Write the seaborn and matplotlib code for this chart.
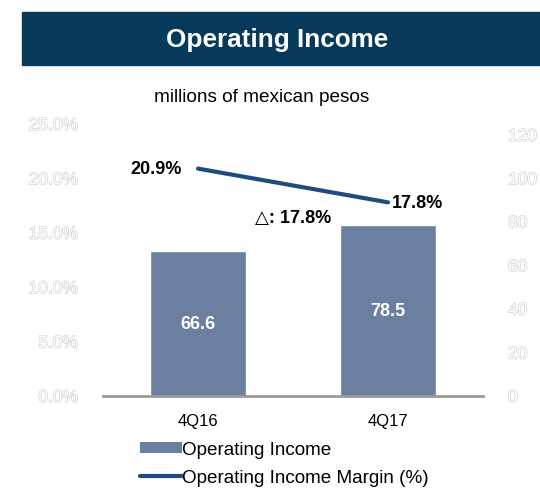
import matplotlib
matplotlib.use("Agg")
import matplotlib.pyplot as plt
import matplotlib.patheffects as pe
from matplotlib.patches import Rectangle, Patch
from matplotlib.lines import Line2D
import seaborn as sns
import pandas as pd

# Data
quarters = ["4Q16", "4Q17"]
operating_income = [66.6, 78.5]          # millions of mexican pesos
operating_margin = [20.9, 17.8]          # percent
margin_change_label = "△: 17.8%"

left_ticks = [0, 5, 10, 15, 20, 25]
right_ticks = [0, 20, 40, 60, 80, 100, 120]

BAR_COLOR = "#6B7FA1"
LINE_COLOR = "#1F4B80"
BANNER_COLOR = "#073A5A"
OUTLINE = [pe.withStroke(linewidth=0.9, foreground="#CFCFCF")]

sns.set_theme(style="white")
plt.rcParams["font.family"] = ["Liberation Sans", "DejaVu Sans"]
plt.rcParams["text.color"] = "black"
plt.rcParams["xtick.color"] = "black"

df = pd.DataFrame({"quarter": quarters, "income": operating_income,
                   "margin": operating_margin, "x": [0, 1]})

fig = plt.figure(figsize=(5.4, 4.89), dpi=100)

# Title banner
fig.patches.append(Rectangle((22 / 540, 1 - 66 / 489), 1 - 22 / 540, 53 / 489,
                             transform=fig.transFigure, color=BANNER_COLOR, zorder=0))
fig.text(277 / 540, 1 - 40 / 489, "Operating Income", color="white",
         fontsize=18.8, fontweight="bold", ha="center", va="center")
fig.text(262 / 540, 1 - 97 / 489, "millions of mexican pesos", color="black",
         fontsize=13.7, ha="center", va="center")

# Bars on the right-hand scale
ax = fig.add_axes([103 / 540, 92 / 489, 380 / 540, 272 / 489])
sns.barplot(data=df, x="quarter", y="income", color=BAR_COLOR, width=0.51,
            saturation=1, ax=ax, zorder=2)

# Margin line on the left-hand scale
ax2 = ax.twinx()
sns.lineplot(data=df, x="x", y="margin", color=LINE_COLOR, linewidth=3,
             ax=ax2, zorder=3)

ax.set_ylim(0, 125)
ax.set_xlim(-0.5, 1.5)
ax.set_yticks(right_ticks)
ax.set_xlabel("")
ax.set_ylabel("")
for s in ["top", "left", "right"]:
    ax.spines[s].set_visible(False)
ax.spines["bottom"].set_color("#999999")
ax.spines["bottom"].set_linewidth(2)
ax.tick_params(axis="x", length=0, pad=12, labelsize=12, labelcolor="black")
ax.tick_params(axis="y", length=0, pad=18, labelsize=12.5, labelcolor="white",
               left=False, right=False, labelleft=False, labelright=True)
for lab in ax.get_yticklabels():
    lab.set_path_effects(OUTLINE)

for i, v in enumerate(operating_income):
    ax.text(i, v / 2, f"{v}", color="white", fontsize=13, fontweight="bold",
            ha="center", va="center")

ax2.set_ylim(0, 25)
ax2.set_xlim(-0.5, 1.5)
ax2.set_yticks(left_ticks)
ax2.set_yticklabels([f"{t:.1f}%" for t in left_ticks])
ax2.set_xlabel("")
ax2.set_ylabel("")
for s in ["top", "left", "right", "bottom"]:
    ax2.spines[s].set_visible(False)
ax2.tick_params(axis="y", length=0, pad=18, labelsize=12.5, labelcolor="white",
                left=False, right=False, labelleft=True, labelright=False)
for lab in ax2.get_yticklabels():
    lab.set_path_effects(OUTLINE)

ax2.annotate(f"{operating_margin[0]}%", (0, operating_margin[0]),
             xytext=(-12, 0), textcoords="offset points", ha="right", va="center",
             fontsize=13, fontweight="bold")
ax2.annotate(f"{operating_margin[1]}%", (1, operating_margin[1]),
             xytext=(3, 0), textcoords="offset points", ha="left", va="center",
             fontsize=13, fontweight="bold")
ax2.text(0.5, operating_margin[1] - 1.4, margin_change_label, ha="center",
         va="center", fontsize=13, fontweight="bold",
         family=["Liberation Sans", "DejaVu Sans"])

# Legend
handles = [Patch(facecolor=BAR_COLOR, edgecolor="none"),
           Line2D([], [], color=LINE_COLOR, linewidth=3)]
fig.legend(handles, ["Operating Income", "Operating Income Margin (%)"],
           loc="upper left", bbox_to_anchor=(140 / 540, 1 - 442 / 489),
           frameon=False, fontsize=13.6, handlelength=2.2, handleheight=0.55,
           handletextpad=0.05, labelspacing=0.6, borderaxespad=0, borderpad=0)

fig.savefig("out.png", dpi=100)
